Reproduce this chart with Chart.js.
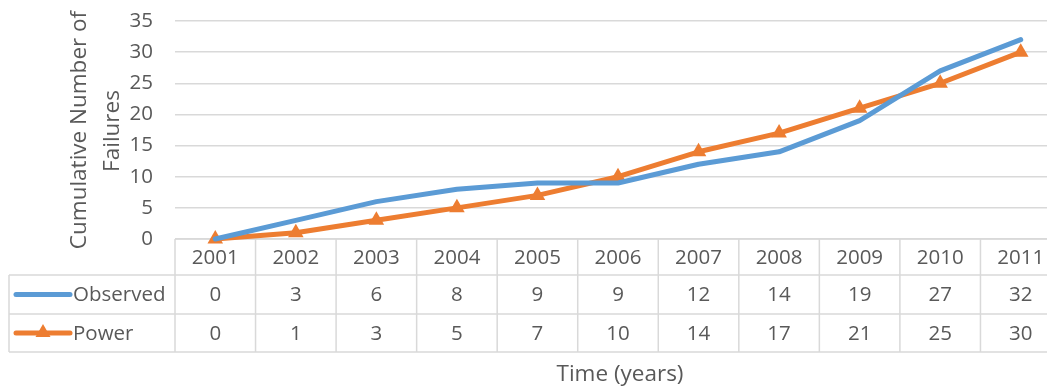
<!DOCTYPE html>
<html>
<head>
<meta charset="utf-8">
<script src="https://cdn.jsdelivr.net/npm/chart.js@4.4.0/dist/chart.umd.min.js"></script>
<style>
  html, body { margin: 0; padding: 0; background: #fff; overflow: hidden; }
  #wrap { position: absolute; left: 0; top: 0; width: 1070px; height: 388px; }
</style>
</head>
<body>
<div id="wrap"><canvas id="c"></canvas></div>
<script>
const years = ['2001','2002','2003','2004','2005','2006','2007','2008','2009','2010','2011'];
const observed = [0, 3, 6, 8, 9, 9, 12, 14, 19, 27, 32];
const power = [0, 1, 3, 5, 7, 10, 14, 17, 21, 25, 30];
const yTicks = [0, 5, 10, 15, 20, 25, 30, 35];

const BLUE = '#5b9bd5';
const ORANGE = '#ed7d31';
const TEXT = '#595959';
const GRID = '#d9d9d9';
const FONT = '"Open Sans", "Liberation Sans", sans-serif';

const rowEdges = [239, 275, 314, 352];
const tableLeft = 9;

// Data table beneath the plot, plus the two-line axis titles
const tablePlugin = {
  id: 'dataTable',
  beforeDatasetsDraw(chart) {
    const ctx = chart.ctx;
    const x = chart.scales.x;
    const area = chart.chartArea;
    const colW = x.getPixelForValue(1) - x.getPixelForValue(0);
    const left = area.left;
    const right = left + colW * years.length;
    ctx.save();
    ctx.strokeStyle = GRID;
    ctx.lineWidth = 1.5;
    ctx.beginPath();
    ctx.moveTo(left, rowEdges[0]); ctx.lineTo(right, rowEdges[0]);
    for (let r = 1; r < rowEdges.length; r++) {
      ctx.moveTo(tableLeft, rowEdges[r]); ctx.lineTo(right, rowEdges[r]);
    }
    ctx.moveTo(tableLeft, rowEdges[1]); ctx.lineTo(tableLeft, rowEdges[3]);
    for (let i = 0; i <= years.length; i++) {
      const px = left + colW * i;
      ctx.moveTo(px, rowEdges[0]); ctx.lineTo(px, rowEdges[3]);
    }
    ctx.stroke();

    ctx.fillStyle = TEXT;
    ctx.font = '20.5px ' + FONT;
    ctx.textAlign = 'center';
    ctx.textBaseline = 'middle';
    const rowMid = r => (rowEdges[r] + rowEdges[r + 1]) / 2 + 1;
    years.forEach((yr, i) => {
      const cx = x.getPixelForValue(i);
      ctx.fillText(yr, cx, rowMid(0));
      ctx.fillText(String(observed[i]), cx, rowMid(1));
      ctx.fillText(String(power[i]), cx, rowMid(2));
    });

    // legend keys in the row headers
    const keyX0 = 16, keyX1 = 70;
    ctx.lineCap = 'round';
    ctx.lineWidth = 5;
    ctx.strokeStyle = BLUE;
    ctx.beginPath();
    ctx.moveTo(keyX0, rowMid(1) - 1); ctx.lineTo(keyX1, rowMid(1) - 1);
    ctx.stroke();
    ctx.strokeStyle = ORANGE;
    ctx.beginPath();
    ctx.moveTo(keyX0, rowMid(2) - 1); ctx.lineTo(keyX1, rowMid(2) - 1);
    ctx.stroke();
    const tx = (keyX0 + keyX1) / 2, ty = rowMid(2) - 2;
    ctx.fillStyle = ORANGE;
    ctx.beginPath();
    ctx.moveTo(tx, ty - 8); ctx.lineTo(tx + 7.5, ty + 5); ctx.lineTo(tx - 7.5, ty + 5);
    ctx.closePath(); ctx.fill();

    ctx.fillStyle = TEXT;
    ctx.textAlign = 'left';
    ctx.fillText('Observed', 73, rowMid(1));
    ctx.fillText('Power', 73, rowMid(2));

    // axis titles
    ctx.font = '22.5px ' + FONT;
    ctx.textAlign = 'center';
    ctx.fillText('Time (years)', 620, 375);
    ctx.save();
    ctx.translate(80, 130);
    ctx.rotate(-Math.PI / 2);
    ctx.fillText('Cumulative Number of', 0, 0);
    ctx.restore();
    ctx.save();
    ctx.translate(113, 131);
    ctx.rotate(-Math.PI / 2);
    ctx.fillText('Failures', 0, 0);
    ctx.restore();
    ctx.restore();
  }
};

new Chart(document.getElementById('c'), {
  type: 'line',
  data: {
    labels: years,
    datasets: [
      {
        label: 'Observed',
        data: observed,
        borderColor: BLUE,
        backgroundColor: BLUE,
        borderWidth: 5,
        pointRadius: 0,
        borderCapStyle: 'round',
        borderJoinStyle: 'round',
        tension: 0,
        clip: false
      },
      {
        label: 'Power',
        data: power,
        borderColor: ORANGE,
        backgroundColor: ORANGE,
        borderWidth: 5,
        pointStyle: 'triangle',
        pointRadius: 9,
        pointBorderWidth: 0,
        borderCapStyle: 'round',
        borderJoinStyle: 'round',
        tension: 0,
        clip: false
      }
    ]
  },
  options: {
    responsive: true,
    maintainAspectRatio: false,
    animation: false,
    events: [],
    layout: { padding: { top: 21, bottom: 149, left: 0, right: 1 } },
    plugins: { legend: { display: false }, tooltip: { enabled: false } },
    scales: {
      x: {
        display: false,
        offset: true
      },
      y: {
        min: 0,
        max: 35,
        afterBuildTicks(scale) { scale.ticks = yTicks.map(v => ({ value: v })); },
        afterFit(scale) {
          scale.width = 175;
          scale.paddingTop = 0;
          scale.paddingBottom = 0;
        },
        border: { display: false },
        grid: { color: GRID, lineWidth: 1.5, drawTicks: false },
        ticks: {
          color: TEXT,
          padding: 22,
          font: { family: FONT, size: 20.5 }
        }
      }
    }
  },
  plugins: [tablePlugin]
});
</script>
</body>
</html>
